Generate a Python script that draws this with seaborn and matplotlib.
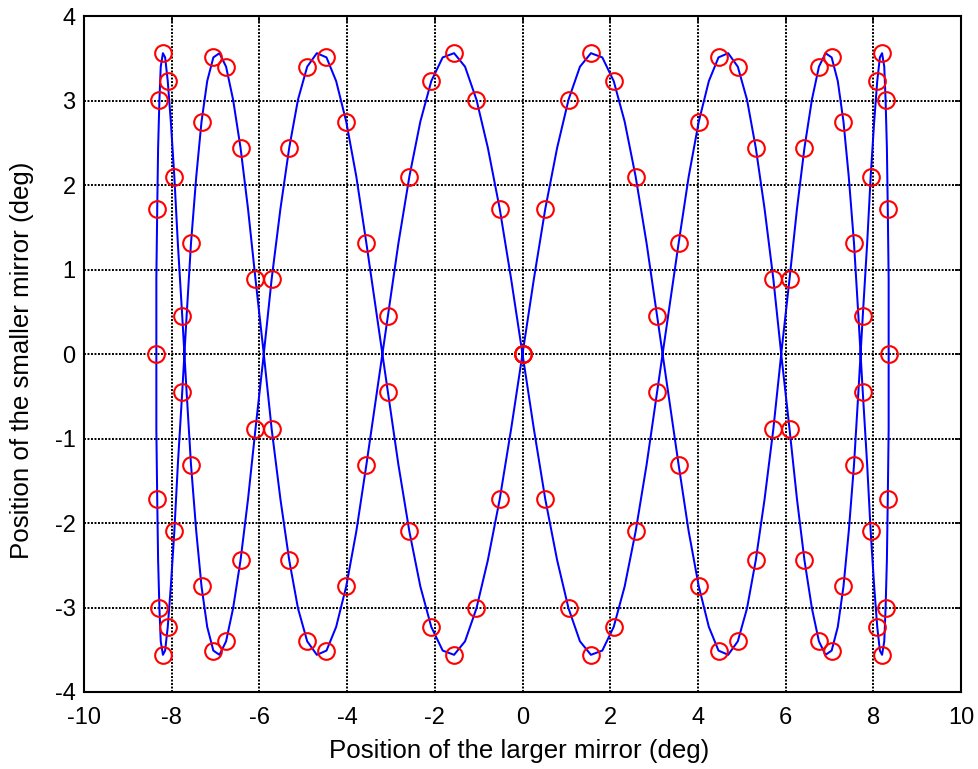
import matplotlib
matplotlib.use("Agg")
import matplotlib.pyplot as plt
import seaborn as sns
import pandas as pd

# Measured scan trajectory (larger mirror vs smaller mirror), degrees
TRACE_X = [
    0.00, 0.26, 0.52, 0.79, 1.05, 1.31, 1.56, 1.82, 2.08, 2.33,
    2.58, 2.83, 3.07, 3.32, 3.56, 3.79, 4.02, 4.25, 4.47, 4.69,
    4.91, 5.12, 5.32, 5.52, 5.72, 5.90, 6.09, 6.26, 6.43, 6.60,
    6.76, 6.91, 7.05, 7.19, 7.32, 7.44, 7.56, 7.66, 7.76, 7.86,
    7.94, 8.02, 8.09, 8.15, 8.20, 8.25, 8.28, 8.31, 8.33, 8.35,
    8.35, 8.35, 8.33, 8.31, 8.28, 8.25, 8.20, 8.15, 8.09, 8.02,
    7.94, 7.86, 7.76, 7.66, 7.56, 7.44, 7.32, 7.19, 7.05, 6.91,
    6.76, 6.60, 6.43, 6.26, 6.09, 5.90, 5.72, 5.52, 5.32, 5.12,
    4.91, 4.69, 4.47, 4.25, 4.02, 3.79, 3.56, 3.32, 3.07, 2.83,
    2.58, 2.33, 2.08, 1.82, 1.56, 1.31, 1.05, 0.79, 0.52, 0.26,
    0.00, -0.26, -0.52, -0.79, -1.05, -1.31, -1.56, -1.82, -2.08, -2.33,
    -2.58, -2.83, -3.07, -3.32, -3.56, -3.79, -4.02, -4.25, -4.47, -4.69,
    -4.91, -5.12, -5.32, -5.52, -5.72, -5.90, -6.09, -6.26, -6.43, -6.60,
    -6.76, -6.91, -7.05, -7.19, -7.32, -7.44, -7.56, -7.66, -7.76, -7.86,
    -7.94, -8.02, -8.09, -8.15, -8.20, -8.25, -8.28, -8.31, -8.33, -8.35,
    -8.35, -8.35, -8.33, -8.31, -8.28, -8.25, -8.20, -8.15, -8.09, -8.02,
    -7.94, -7.86, -7.76, -7.66, -7.56, -7.44, -7.32, -7.19, -7.05, -6.91,
    -6.76, -6.60, -6.43, -6.26, -6.09, -5.90, -5.72, -5.52, -5.32, -5.12,
    -4.91, -4.69, -4.47, -4.25, -4.02, -3.79, -3.56, -3.32, -3.07, -2.83,
    -2.58, -2.33, -2.08, -1.82, -1.56, -1.31, -1.05, -0.79, -0.52, -0.26,
    0.00,
]

TRACE_Y = [
    0.00, 0.89, 1.72, 2.44, 3.01, 3.40, 3.56, 3.51, 3.23, 2.75, 2.10, 1.31, 0.45,
    -0.45, -1.31, -2.10, -2.75, -3.23, -3.51, -3.56, -3.40, -3.01, -2.44, -1.72, -0.89,
    0.00, 0.89, 1.72, 2.44, 3.01, 3.40, 3.56, 3.51, 3.23, 2.75, 2.10, 1.31, 0.45,
    -0.45, -1.31, -2.10, -2.75, -3.23, -3.51, -3.56, -3.40, -3.01, -2.44, -1.72, -0.89,
    0.00, 0.89, 1.72, 2.44, 3.01, 3.40, 3.56, 3.51, 3.23, 2.75, 2.10, 1.31, 0.45,
    -0.45, -1.31, -2.10, -2.75, -3.23, -3.51, -3.56, -3.40, -3.01, -2.44, -1.72, -0.89,
    0.00, 0.89, 1.72, 2.44, 3.01, 3.40, 3.56, 3.51, 3.23, 2.75, 2.10, 1.31, 0.45,
    -0.45, -1.31, -2.10, -2.75, -3.23, -3.51, -3.56, -3.40, -3.01, -2.44, -1.72, -0.89,
    0.00, 0.89, 1.72, 2.44, 3.01, 3.40, 3.56, 3.51, 3.23, 2.75, 2.10, 1.31, 0.45,
    -0.45, -1.31, -2.10, -2.75, -3.23, -3.51, -3.56, -3.40, -3.01, -2.44, -1.72, -0.89,
    0.00, 0.89, 1.72, 2.44, 3.01, 3.40, 3.56, 3.51, 3.23, 2.75, 2.10, 1.31, 0.45,
    -0.45, -1.31, -2.10, -2.75, -3.23, -3.51, -3.56, -3.40, -3.01, -2.44, -1.72, -0.89,
    0.00, 0.89, 1.72, 2.44, 3.01, 3.40, 3.56, 3.51, 3.23, 2.75, 2.10, 1.31, 0.45,
    -0.45, -1.31, -2.10, -2.75, -3.23, -3.51, -3.56, -3.40, -3.01, -2.44, -1.72, -0.89,
    0.00, 0.89, 1.72, 2.44, 3.01, 3.40, 3.56, 3.51, 3.23, 2.75, 2.10, 1.31, 0.45,
    -0.45, -1.31, -2.10, -2.75, -3.23, -3.51, -3.56, -3.40, -3.01, -2.44, -1.72, -0.89,
    0.00,
]

# Sampled mirror positions (marked with circles)
SAMPLE_X = [
    0.00, 0.52, 1.05, 1.56, 2.08, 2.58, 3.07, 3.56, 4.02, 4.47,
    4.91, 5.32, 5.72, 6.09, 6.43, 6.76, 7.05, 7.32, 7.56, 7.76,
    7.94, 8.09, 8.20, 8.28, 8.33, 8.35, 8.33, 8.28, 8.20, 8.09,
    7.94, 7.76, 7.56, 7.32, 7.05, 6.76, 6.43, 6.09, 5.72, 5.32,
    4.91, 4.47, 4.02, 3.56, 3.07, 2.58, 2.08, 1.56, 1.05, 0.52,
    0.00, -0.52, -1.05, -1.56, -2.08, -2.58, -3.07, -3.56, -4.02, -4.47,
    -4.91, -5.32, -5.72, -6.09, -6.43, -6.76, -7.05, -7.32, -7.56, -7.76,
    -7.94, -8.09, -8.20, -8.28, -8.33, -8.35, -8.33, -8.28, -8.20, -8.09,
    -7.94, -7.76, -7.56, -7.32, -7.05, -6.76, -6.43, -6.09, -5.72, -5.32,
    -4.91, -4.47, -4.02, -3.56, -3.07, -2.58, -2.08, -1.56, -1.05, -0.52,
    0.00,
]

SAMPLE_Y = [
    0.00, 1.72, 3.01, 3.56, 3.23, 2.10, 0.45, -1.31, -2.75, -3.51, -3.40, -2.44, -0.89,
    0.89, 2.44, 3.40, 3.51, 2.75, 1.31, -0.45, -2.10, -3.23, -3.56, -3.01, -1.72,
    0.00, 1.72, 3.01, 3.56, 3.23, 2.10, 0.45, -1.31, -2.75, -3.51, -3.40, -2.44, -0.89,
    0.89, 2.44, 3.40, 3.51, 2.75, 1.31, -0.45, -2.10, -3.23, -3.56, -3.01, -1.72,
    0.00, 1.72, 3.01, 3.56, 3.23, 2.10, 0.45, -1.31, -2.75, -3.51, -3.40, -2.44, -0.89,
    0.89, 2.44, 3.40, 3.51, 2.75, 1.31, -0.45, -2.10, -3.23, -3.56, -3.01, -1.72,
    0.00, 1.72, 3.01, 3.56, 3.23, 2.10, 0.45, -1.31, -2.75, -3.51, -3.40, -2.44, -0.89,
    0.89, 2.44, 3.40, 3.51, 2.75, 1.31, -0.45, -2.10, -3.23, -3.56, -3.01, -1.72,
    0.00,
]

X_TICKS = [-10, -8, -6, -4, -2, 0, 2, 4, 6, 8, 10]
Y_TICKS = [-4, -3, -2, -1, 0, 1, 2, 3, 4]
X_LABEL = "Position of the larger mirror (deg)"
Y_LABEL = "Position of the smaller mirror (deg)"

sns.set_theme(style="white")
plt.rcParams["font.family"] = ["Liberation Sans", "DejaVu Sans"]
plt.rcParams["axes.unicode_minus"] = False

trace = pd.DataFrame({"x": TRACE_X, "y": TRACE_Y})
samples = pd.DataFrame({"x": SAMPLE_X, "y": SAMPLE_Y})

fig = plt.figure(figsize=(9.79, 7.69), dpi=100)
fig.patch.set_facecolor("white")
ax = fig.add_axes([84 / 979, 1 - 692 / 769, 877 / 979, 676 / 769])
ax.set_facecolor("white")

sns.lineplot(data=trace, x="x", y="y", sort=False, estimator=None,
             color="#0000ff", linewidth=1.45, ax=ax, zorder=2)
sns.lineplot(data=samples, x="x", y="y", sort=False, estimator=None,
             linestyle="none", marker="o", markersize=12,
             markerfacecolor="none", markeredgecolor="#ff0000",
             markeredgewidth=1.5, ax=ax, zorder=3)

ax.set_xlim(-10, 10)
ax.set_ylim(-4, 4)
ax.set_xticks(X_TICKS)
ax.set_yticks(Y_TICKS)
ax.set_xticklabels([str(v) for v in X_TICKS])
ax.set_yticklabels([str(v) for v in Y_TICKS])

ax.grid(True, color="black", linestyle=(0, (1, 0.8)), linewidth=1.4)
ax.set_axisbelow(True)
for side in ["top", "right", "bottom", "left"]:
    ax.spines[side].set_visible(True)
    ax.spines[side].set_color("black")
    ax.spines[side].set_linewidth(1.5)

ax.tick_params(axis="both", which="major", direction="in", length=4, width=1.2,
               colors="black", top=True, right=True, labelsize=17)
ax.tick_params(axis="x", pad=11)
ax.tick_params(axis="y", pad=6)

ax.set_xlabel(X_LABEL, fontsize=18.6, color="black")
ax.set_ylabel(Y_LABEL, fontsize=18.6, color="black")
ax.xaxis.set_label_coords(0.4965, -0.069)
ax.yaxis.set_label_coords(-0.057, 0.49)

fig.savefig("out.png", dpi=100, facecolor="white")
